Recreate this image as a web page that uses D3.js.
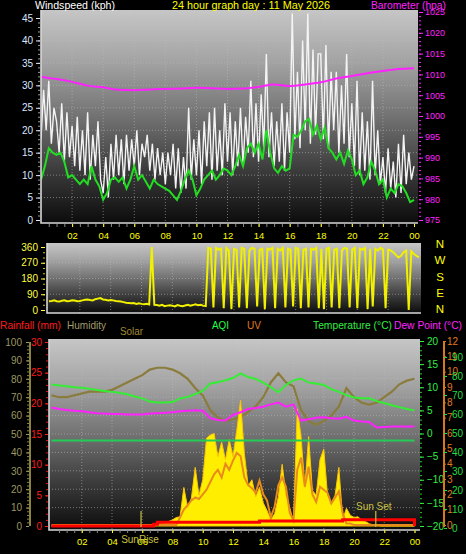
<!DOCTYPE html>
<html><head><meta charset="utf-8">
<script src="https://cdn.jsdelivr.net/npm/d3@7"></script>
<style>
body{margin:0;background:#000;}
svg{display:block;font-family:"Liberation Sans",Arial,sans-serif;}
</style>
</head><body>
<svg id="c" width="466" height="554"></svg>
<script>
// ---------- DATA ----------
const hourTickValues = [2,4,6,8,10,12,14,16,18,20,22,24];
const hourTickLabels = ["02","04","06","08","10","12","14","16","18","20","22","00"];

// wind gust (kph), every 10 min
const windGust = [
 18,29,20,31,17,25, 22,15,26,13,24,14, 21,12,23,11,20,10, 24,9,19,12,22,9,
 6,14,5,17,9,19, 10,18,8,19,11,18, 12,20,10,17,14,19, 11,17,9,16,10,15,
 8,15,10,17,7,16, 6,14,7,25,9,18, 10,20,8,22,12,24, 9,25,11,20,10,26,
 13,24,10,22,12,25, 12,23,15,31,14,26, 13,28,16,37,14,24, 12,22,13,26,11,24,
 15,46,18,33,16,40, 20,46,17,38,19,37, 37,18,39,16,33,20, 33,15,30,17,37,14,
 26,12,31,10,24,11, 22,9,31,10,20,8, 14,6,16,7,13,5, 17,6,19,8,15,9, 12];
// average wind speed (kph), every 15 min
const windAvg = [
 9,12,16,15, 14.5,15,13,9.5, 10,9,8,9, 8,12,9,7.5, 4.5,6,9,9.5, 8.5,9.5,7,9,
 12,9,10,8.5, 7,9,8,7.5, 7,6.5,5.5,4.5, 6.5,9,11,9, 5.5,7,9,10, 11,9,10,11.5,
 11,10,12,14.5, 12,16,17,15, 17,13.5,20,15, 11.5,10.5,12,11, 11.5,19,18.5,20, 22,22.5,19,21,
 18,20.5,16,15, 13.5,15,12.5,15.5, 13.5,10,11,8, 9.5,13,11,8, 9,5,7,6, 8,7.5,6,4, 4.5];
// barometer (hPa), hourly
const barometer = [1009.4,1008.9,1008.2,1007.3,1006.9,1006.3,1006.2,1006.4,1006.5,1006.6,1006.8,1006.7,
 1006.5,1006.6,1007.0,1007.6,1007.2,1007.6,1008.1,1009.0,1009.6,1010.3,1010.8,1011.3,1011.5];
// wind direction (deg), every 10 min
const windDir = [
 50,52,55,50,48,53, 55,50,52,56,54,50, 52,55,58,60,57,55, 62,65,68,60,58,55,
 57,55,52,50,48,45, 42,40,38,40,35,38, 35,33,36,32,360,30, 28,25,30,22,25,27,
 25,20,28,24,22,26, 30,25,28,32,27,30, 25,22,355,350,15,355, 345,350,10,355,340,5,
 350,345,15,355,350,10, 340,355,350,20,345,350, 5,350,345,355,10,350, 340,355,15,350,345,20,
 355,350,10,345,350,15, 350,345,355,10,350,5, 350,355,15,345,350,10, 340,355,350,15,345,355,
 10,350,345,355,5,350, 20,350,340,355,345,10, 345,340,330,315,300,310, 330,340,0,335,320,310, 300];
const dirLabels = ["N","W","S","E","N"];

// humidity (%), every 30 min
const humidity = [71,70,70,71,72,73,73,73,74,76, 78,80,82,85,86,86,85,83,80,75,
 71,63,59,57,58,59,62,65,70,78, 83,78,76,63,57,55,57,60,65,75, 70,67,66,67,70,73,77,79,80];
// temperature (°C), every 30 min
const temperature = [10.6,10.4,10.2,10.0,9.9,9.7,9.4,9.2,9.0,8.8, 8.5,8.0,7.6,6.9,6.7,6.7,6.8,7.6,7.9,8.5,
 9.2,10.8,11.1,11.5,12.0,13.0,12.2,11.8,11.0,10.0, 8.9,10.5,11.5,11.9,11.0,10.8,10.5,9.6,9.0,8.3,
 7.8,7.6,7.6,7.0,6.6,6.1,5.7,5.3,5.0];
// dew point (°C), every 30 min
const dewPoint = [5.6,5.3,5.1,4.9,4.8,4.6,4.4,4.3,4.2,4.2, 4.1,4.1,4.1,4.3,4.4,4.5,4.6,4.8,4.9,5.0,
 4.9,3.3,2.9,2.8,4.0,4.6,5.3,5.5,5.8,6.3, 6.7,5.8,6.3,2.8,3.1,3.4,3.5,3.3,3.2,3.6,
 2.8,2.6,2.5,1.3,1.4,1.5,1.5,1.5,1.5];
// solar (W/m2), every 15 min
const solar = [0,0,0,0, 0,0,0,0, 0,0,0,0, 0,0,0,0, 0,0,0,0, 0,0,0,0,
 0,5,8,10, 12,15,20,30, 40,55,60,250, 120,180,380,200, 300,570,590,600, 450,545,430,560,
 450,620,815,470, 260,300,190,250, 150,100,40,80, 190,400,200,120, 25,760,580,250, 580,230,200,430,
 500,200,150,200, 380,40,115,70, 55,60,40,30, 15,8,5,0, 0,0,0,0, 0,0,0,0, 0];
// UV index, every 15 min
const uvIndex = [0,0,0,0, 0,0,0,0, 0,0,0,0, 0,0,0,0, 0,0,0,0, 0,0,0,0, 0,0,0,0, 0,0,0,0,
 0,0,0.5,1.0, 1.3,1.6,1.8,1.7, 2.0,2.3,2.8,3.3, 3.6,3.1,4.0,3.6, 4.2,4.7,4.5,3.1, 2.6,2.4,2.1,2.9,
 2.0,1.6,0.5,1.2, 2.6,3.1,2.5,0.8, 0.3,3.6,4.4,2.5, 3.8,2.0,1.5,2.5, 2.3,2.1,1.4,1.8, 2.2,0.8,0.1,0.1,
 0,0,0,0, 0,0,0,0, 0,0,0,0, 0,0,0,0, 0];
// rainfall (mm), every 15 min
const rainfall = [0,0,0,0, 0,0,0,0, 0,0,0,0, 0,0,0,0, 0,0,0,0, 0,0,0,0,
 0,0,0,0.3, 0.6,0.6,0.6,0.6, 0.6,0.6,0.6,0.6, 0.6,0.6,0.6,0.6, 0.6,0.6,0.6,0.6, 0.6,0.6,0.6,0.6,
 0.6,0.6,0.6,0.6, 0.6,0.6,0.6,0.8, 0.8,0.8,0.8,0.8, 0.8,0.8,0.8,0.8, 0.8,0.8,0.8,0.8, 0.8,0.8,0.8,0.8,
 0.8,0.8,0.8,0.8, 0.8,1.0,1.0,1.0, 1.0,1.0,1.0,1.0, 1.0,1.0,1.0,1.0, 1.0,1.0,1.0,1.0, 1.0,1.0,1.0,1.0, 0];
// AQI, hourly
const aqi = [46,46,46,46,46,46,46,46,46,46,46,46,46,46,46,46,46,46,46,46,46,46,46,46,46];
const sunEvents = [{label:"SunRise", hour:5.92}, {label:"Sun Set", hour:21.44}];

// ---------- DRAW ----------
const svg = d3.select("#c");
const FONT = "Liberation Sans, Arial, sans-serif";
const defs = svg.append("defs");
const grad = defs.append("linearGradient").attr("id","bg").attr("x1",0).attr("y1",0).attr("x2",0).attr("y2",1);
[[0,"#c6c6c6"],[0.25,"#a2a2a2"],[0.5,"#727272"],[0.75,"#3c3c3c"],[1,"#0c0c0c"]]
  .forEach(([o,c]) => grad.append("stop").attr("offset",o).attr("stop-color",c));

function panel(id, x0, y0, x1, y1) {
  defs.append("clipPath").attr("id", id).append("rect")
    .attr("x", x0).attr("y", y0).attr("width", x1 - x0).attr("height", y1 - y0);
  svg.append("rect").attr("x", x0).attr("y", y0).attr("width", x1 - x0).attr("height", y1 - y0)
    .attr("fill", "url(#bg)");
  return svg.append("g").attr("clip-path", `url(#${id})`);
}
function border(x0, y0, x1, y1) {
  svg.append("path").attr("d", `M${x0},${y0}V${y1}H${x1}`)
    .attr("fill","none").attr("stroke","#d8d8d8").attr("stroke-width",1.6);
}
function grid(g, xs, ys, xVals, yVals, y0, y1, x0, x1) {
  g.selectAll(null).data(xVals).join("line")
    .attr("x1", d => xs(d)).attr("x2", d => xs(d)).attr("y1", y0).attr("y2", y1)
    .attr("stroke", "#bbb").attr("stroke-opacity", 0.55).attr("stroke-dasharray", "1,2");
  g.selectAll(null).data(yVals).join("line")
    .attr("y1", d => ys(d)).attr("y2", d => ys(d)).attr("x1", x0).attr("x2", x1)
    .attr("stroke", "#bbb").attr("stroke-opacity", 0.55).attr("stroke-dasharray", "1,2");
}
function styleAxis(g, color, fs, anchor) {
  g.select(".domain").remove();
  g.selectAll("line").attr("stroke", color);
  g.selectAll("text").attr("fill", color).style("font-size", fs + "px").style("font-family", FONT);
  if (anchor) g.selectAll("text").attr("text-anchor", anchor);
  return g;
}
function label(x, y, txt, color, fs, width) {
  const el = svg.append("text").attr("x", x).attr("y", y).text(txt).attr("fill", color)
    .style("font-size", (fs || 11.5) + "px").style("font-family", FONT);
  if (width) el.attr("textLength", width).attr("lengthAdjust", "spacingAndGlyphs");
  return el;
}
const t = (arr, step) => arr.map((v, i) => [i * step, v]);

// ===== TOP PANEL: wind + barometer =====
const xTop = d3.scaleLinear([0, 24], [41, 414]);
const yWind = d3.scaleLinear([0, 45], [220, 18]);
const yBaro = d3.scaleLinear([975, 1025], [220, 12]);
const gTop = panel("cp1", 41, 10, 418, 223);
grid(gTop, xTop, yWind, d3.range(2, 24, 2), d3.range(5, 46, 5), 10, 223, 41, 418);

gTop.append("path").datum(t(windGust, 1/6))
  .attr("d", d3.line().x(d => xTop(d[0])).y(d => yWind(d[1])))
  .attr("fill", "none").attr("stroke", "#f4f4f4").attr("stroke-width", 1.4);
gTop.append("path").datum(t(windAvg, 0.25))
  .attr("d", d3.line().x(d => xTop(d[0])).y(d => yWind(d[1])))
  .attr("fill", "none").attr("stroke", "#22dd22").attr("stroke-width", 2);
gTop.append("path").datum(t(barometer, 1))
  .attr("d", d3.line().curve(d3.curveMonotoneX).x(d => xTop(d[0])).y(d => yBaro(d[1])))
  .attr("fill", "none").attr("stroke", "#ff22ff").attr("stroke-width", 2);
border(41, 10, 418, 223);

styleAxis(svg.append("g").attr("transform", "translate(40,0)")
  .call(d3.axisLeft(yWind).tickValues(d3.range(0, 46, 1)).tickSize(2).tickFormat("")), "#999", 10);
styleAxis(svg.append("g").attr("transform", "translate(40,0)")
  .call(d3.axisLeft(yWind).tickValues(d3.range(0, 46, 5)).tickSize(4).tickPadding(3)), "#dde6ff", 10);
styleAxis(svg.append("g").attr("transform", "translate(419,0)")
  .call(d3.axisRight(yBaro).tickValues(d3.range(975, 1026, 1)).tickSize(2).tickFormat("")), "#ff22ff", 9);
styleAxis(svg.append("g").attr("transform", "translate(419,0)")
  .call(d3.axisRight(yBaro).tickValues(d3.range(975, 1026, 5)).tickFormat(d => String(d)).tickSize(4).tickPadding(2)), "#ff22ff", 9);
styleAxis(svg.append("g").attr("transform", "translate(0,224)")
  .call(d3.axisBottom(xTop).tickValues(d3.range(0.5, 24.1, 0.5)).tickSize(3).tickFormat("")), "#888", 9.5);
styleAxis(svg.append("g").attr("transform", "translate(0,224)")
  .call(d3.axisBottom(xTop).tickValues(hourTickValues).tickFormat((d, i) => hourTickLabels[i]).tickSize(3).tickPadding(5)), "#ffff00", 9.5);

label(35, 8.5, "Windspeed (kph)", "#ffffff", 11.5, 80);
label(172, 8.5, "24 hour graph day : 11 May 2026", "#ffff00", 11.5, 158);
label(371, 8.5, "Barometer (hpa)", "#ff22ff", 11.5, 75);

// ===== WIND DIRECTION PANEL =====
const xDir = d3.scaleLinear([0, 24], [49, 419]);
const yDir = d3.scaleLinear([0, 360], [310, 247]);
const gDir = panel("cp2", 47, 243, 421, 313);
grid(gDir, xDir, yDir, d3.range(2, 24, 2), [90, 180, 270], 243, 313, 47, 421);
gDir.append("path").datum(t(windDir, 1/6))
  .attr("d", d3.line().x(d => xDir(d[0])).y(d => yDir(d[1])))
  .attr("fill", "none").attr("stroke", "#f0f000").attr("stroke-width", 2);
border(47, 243, 421, 313);
styleAxis(svg.append("g").attr("transform", "translate(45,0)")
  .call(d3.axisLeft(yDir).tickValues(d3.range(0, 361, 30)).tickSize(2).tickFormat("")), "#c8c800", 10);
styleAxis(svg.append("g").attr("transform", "translate(45,0)")
  .call(d3.axisLeft(yDir).tickValues([0, 90, 180, 270, 360]).tickSize(4).tickPadding(3)), "#ffff40", 10);
const dirY = d3.scalePoint(d3.range(dirLabels.length), [248, 313]);
dirLabels.forEach((s, i) => label(440, dirY(i), s, "#ffff00", 11.5).attr("text-anchor", "middle"));

// ===== BOTTOM PANEL =====
const xBot = d3.scaleLinear([0, 24], [51.5, 414.5]);
const yHum = d3.scaleLinear([0, 100], [526, 342]);
const yRain = d3.scaleLinear([0, 30], [526, 342]);
const yTemp = d3.scaleLinear([-20, 20], [526, 341]);
const yUV = d3.scaleLinear([0, 12], [525, 341]);
const yAQI = d3.scaleLinear([0, 100], [528, 338]);
const ySolar = d3.scaleLinear([0, 1200], [526, 341]);
const gBot = panel("cp3", 49, 339, 420, 530);
grid(gBot, xBot, yHum, d3.range(2, 24, 2), d3.range(10, 100, 10), 339, 530, 49, 420);

gBot.append("path").datum(t(humidity, 0.5))
  .attr("d", d3.line().x(d => xBot(d[0])).y(d => yHum(d[1])))
  .attr("fill", "none").attr("stroke", "#8a7c3c").attr("stroke-width", 2.2);
gBot.append("path").datum(t(solar, 0.25))
  .attr("d", d3.area().x(d => xBot(d[0])).y0(ySolar(0)).y1(d => ySolar(d[1])))
  .attr("fill", "#ffee00").attr("stroke", "#ffc400").attr("stroke-width", 1);
gBot.append("path").datum(t(uvIndex, 0.25))
  .attr("d", d3.line().x(d => xBot(d[0])).y(d => yUV(d[1])))
  .attr("fill", "none").attr("stroke", "#e88a1c").attr("stroke-width", 2);
gBot.append("path").datum(t(aqi, 1))
  .attr("d", d3.line().x(d => xBot(d[0])).y(d => yAQI(d[1])))
  .attr("fill", "none").attr("stroke", "#22cc55").attr("stroke-width", 2);
gBot.append("path").datum(t(temperature, 0.5))
  .attr("d", d3.line().x(d => xBot(d[0])).y(d => yTemp(d[1])))
  .attr("fill", "none").attr("stroke", "#33ee33").attr("stroke-width", 2);
gBot.append("path").datum(t(dewPoint, 0.5))
  .attr("d", d3.line().x(d => xBot(d[0])).y(d => yTemp(d[1])))
  .attr("fill", "none").attr("stroke", "#ff22ff").attr("stroke-width", 2);
gBot.append("path").datum(t(rainfall, 0.25))
  .attr("d", d3.line().curve(d3.curveStepAfter).x(d => xBot(d[0])).y(d => yRain(d[1])))
  .attr("fill", "none").attr("stroke", "#ff0000").attr("stroke-width", 3);
gBot.selectAll(null).data(sunEvents).join("line")
  .attr("x1", d => xBot(d.hour)).attr("x2", d => xBot(d.hour)).attr("y1", 511).attr("y2", 527)
  .attr("stroke", "#c8c040").attr("stroke-width", 1.2);
border(49, 339, 420, 530);

// left axes
svg.append("line").attr("x1", 30).attr("x2", 30).attr("y1", yHum(100)).attr("y2", yHum(0))
  .attr("stroke", "#8a8440").attr("stroke-width", 2);
styleAxis(svg.append("g").attr("transform", "translate(29,0)")
  .call(d3.axisLeft(yHum).tickValues(d3.range(0, 101, 2)).tickSize(2).tickFormat("")), "#8a8440", 10);
styleAxis(svg.append("g").attr("transform", "translate(29,0)")
  .call(d3.axisLeft(yHum).tickValues(d3.range(0, 101, 10)).tickSize(3).tickPadding(4)), "#9c9860", 10);
styleAxis(svg.append("g").attr("transform", "translate(48,0)")
  .call(d3.axisLeft(yRain).tickValues(d3.range(0, 31, 1)).tickSize(2).tickFormat("")), "#ee1111", 10);
styleAxis(svg.append("g").attr("transform", "translate(48,0)")
  .call(d3.axisLeft(yRain).tickValues(d3.range(0, 31, 5)).tickSize(3).tickPadding(3)), "#ff1a1a", 10);
// right axes
styleAxis(svg.append("g").attr("transform", "translate(420,0)")
  .call(d3.axisRight(yTemp).tickValues(d3.range(-20, 21, 1)).tickSize(2).tickFormat("")), "#22cc22", 10);
styleAxis(svg.append("g").attr("transform", "translate(420,0)")
  .call(d3.axisRight(yTemp).tickValues(d3.range(-20, 21, 5)).tickSize(4).tickPadding(3)), "#33ee44", 10);
svg.append("line").attr("x1", 444).attr("x2", 444).attr("y1", yUV(12)).attr("y2", yUV(0) + 2)
  .attr("stroke", "#d87818").attr("stroke-width", 2);
styleAxis(svg.append("g").attr("transform", "translate(444,0)")
  .call(d3.axisRight(yUV).tickValues(d3.range(0, 13, 1)).tickSize(2).tickPadding(1)), "#e07a20", 10);
styleAxis(svg.append("g").attr("transform", "translate(444,0)")
  .call(d3.axisRight(yAQI).tickValues(d3.range(0, 91, 10)).tickSize(3).tickPadding(5)), "#22dd44", 10);
// x axis
styleAxis(svg.append("g").attr("transform", "translate(0,530)")
  .call(d3.axisBottom(xBot).tickValues(d3.range(0.5, 24.1, 0.5)).tickSize(3).tickFormat("")), "#888", 9.5);
styleAxis(svg.append("g").attr("transform", "translate(0,530)")
  .call(d3.axisBottom(xBot).tickValues(hourTickValues).tickFormat((d, i) => hourTickLabels[i]).tickSize(3).tickPadding(5)), "#ffff00", 9.5);
label(xBot(sunEvents[0].hour) - 1, 543, sunEvents[0].label, "#c8c040", 10).attr("text-anchor", "middle");
label(xBot(sunEvents[1].hour) - 2, 510, sunEvents[1].label, "#c8c040", 10).attr("text-anchor", "middle");

// header labels
label(0, 329, "Rainfall (mm)", "#ff1a1a", 11.5, 61);
label(67, 329, "Humidity", "#a09c6c", 11.5, 39);
label(120, 335, "Solar", "#a08c30", 11.5, 23);
label(212, 329, "AQI", "#22ff44", 11.5, 17);
label(247, 329, "UV", "#e07a20", 11.5, 14);
label(313, 329, "Temperature (°C)", "#33ee44", 11.5, 79);
label(394, 329, "Dew Point (°C)", "#ff22ff", 11.5, 68);
</script>
</body></html>
